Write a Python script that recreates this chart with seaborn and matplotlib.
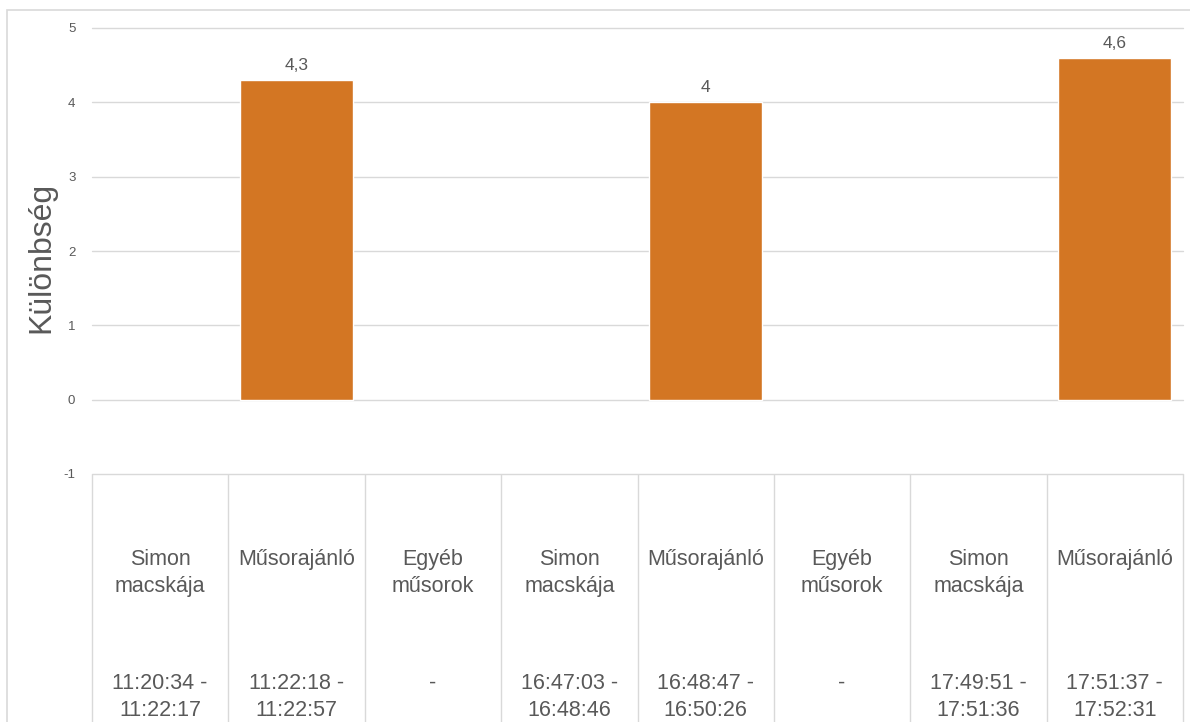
import matplotlib.pyplot as plt
import seaborn as sns
import pandas as pd
import numpy as np
from matplotlib.patches import Rectangle

# adatok
programs = ['Simon\nmacskája', 'Műsorajánló', 'Egyéb\nműsorok',
            'Simon\nmacskája', 'Műsorajánló', 'Egyéb\nműsorok',
            'Simon\nmacskája', 'Műsorajánló']
times = ['11:20:34 -\n11:22:17', '11:22:18 -\n11:22:57', '-',
         '16:47:03 -\n16:48:46', '16:48:47 -\n16:50:26', '-',
         '17:49:51 -\n17:51:36', '17:51:37 -\n17:52:31']
diff = [np.nan, 4.3, np.nan, np.nan, 4.0, np.nan, np.nan, 4.6]
y_ticks = [-1, 0, 1, 2, 3, 4, 5]

BAR = '#D37623'
GRID = '#D9D9D9'
TXT = '#595959'

sns.set_theme(style='white')
plt.rcParams['font.family'] = ['Liberation Sans', 'DejaVu Sans']

ids = [f'c{i}' for i in range(len(programs))]
df = pd.DataFrame({'id': ids, 'diff': diff}).dropna()

W, H = 1190, 722
fig = plt.figure(figsize=(W / 100, H / 100), dpi=100)
ax_left, ax_right, ax_top, ax_bot = 92, 1183, 28, 474
ax = fig.add_axes([ax_left / W, (H - ax_bot) / H,
                   (ax_right - ax_left) / W, (ax_bot - ax_top) / H])

sns.barplot(data=df, x='id', y='diff', order=ids, color=BAR, width=0.83,
            saturation=1, ax=ax)

ax.bar_label(ax.containers[0],
             labels=[f'{v:g}'.replace('.', ',') for v in df['diff']],
             padding=5, fontsize=12.5, color=TXT)

ax.set_ylim(-1, 5)
ax.set_xlim(-0.5, len(ids) - 0.5)
ax.set_yticks(y_ticks)
ax.set_yticklabels([str(t) for t in y_ticks], fontsize=9.5, color=TXT)
ax.tick_params(axis='y', length=0, pad=12)
ax.set_xticks([])
ax.set_xlabel('')
ax.set_ylabel('Különbség', fontsize=23, color=TXT)
h_ax = ax_bot - ax_top
ax.yaxis.set_label_coords((56 - ax_left) / (ax_right - ax_left),
                          (ax_bot - 257) / h_ax)
ax.grid(axis='y', color=GRID, lw=1)
for gl in ax.get_ygridlines():
    gl.set_clip_on(False)
ax.set_axisbelow(True)
for s in ax.spines.values():
    s.set_visible(False)

# kategória táblázat az x tengely alatt
tr = ax.get_xaxis_transform()
def ypos(p):
    return (ax_bot - p) / h_ax

ax.vlines(np.arange(len(ids) + 1) - 0.5, ypos(H + 5), 0, colors=GRID, lw=1,
          transform=tr, clip_on=False)
for i, (p, t) in enumerate(zip(programs, times)):
    ax.text(i, ypos(549), p, transform=tr, ha='center', va='top',
            fontsize=15.5, color=TXT, clip_on=False, linespacing=1.35)
    ax.text(i, ypos(673), t, transform=tr, ha='center', va='top',
            fontsize=15.5, color=TXT, clip_on=False, linespacing=1.35)

# külső keret
fig.patches.append(Rectangle((7 / W, -0.05), 1.1, (H - 10) / H + 0.05,
                             transform=fig.transFigure, fill=False,
                             edgecolor=GRID, lw=1.2))

fig.savefig('out.png', dpi=100)
